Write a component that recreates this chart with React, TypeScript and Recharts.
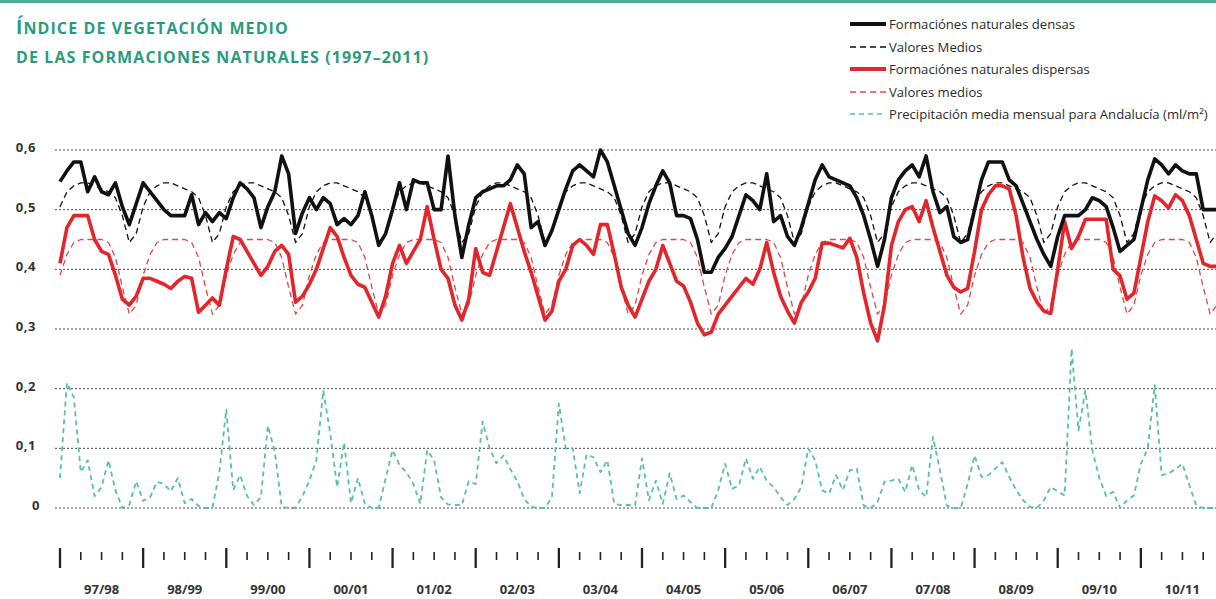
import { LineChart, Line, XAxis, YAxis, CartesianGrid, Legend } from "recharts";

// hydrological years shown on the x axis (12 months each, starting in autumn)
const YEARS = [
  "97/98", "98/99", "99/00", "00/01", "01/02", "02/03", "03/04",
  "04/05", "05/06", "06/07", "07/08", "08/09", "09/10", "10/11",
];

const Y_TICKS = [0, 0.1, 0.2, 0.3, 0.4, 0.5, 0.6];

// formaciones naturales densas, monthly
const DENSE = [
  0.547, 0.565, 0.58, 0.58, 0.53, 0.555, 0.53, 0.525, 0.545, 0.505, 0.475, 0.51,
  0.545, 0.53, 0.515, 0.5, 0.49, 0.49, 0.49, 0.525, 0.475, 0.495, 0.48, 0.495,
  0.485, 0.52, 0.545, 0.535, 0.52, 0.47, 0.505, 0.53, 0.59, 0.56, 0.46, 0.495,
  0.52, 0.5, 0.52, 0.51, 0.475, 0.485, 0.475, 0.49, 0.53, 0.49, 0.44, 0.46,
  0.5, 0.545, 0.5, 0.55, 0.545, 0.545, 0.5, 0.5, 0.59, 0.49, 0.42, 0.475,
  0.52, 0.53, 0.535, 0.54, 0.54, 0.55, 0.575, 0.56, 0.47, 0.48, 0.44, 0.465,
  0.5, 0.535, 0.565, 0.575, 0.565, 0.555, 0.6, 0.58, 0.54, 0.5, 0.46, 0.44,
  0.47, 0.51, 0.54, 0.565, 0.545, 0.49, 0.49, 0.485, 0.45, 0.395, 0.395, 0.42,
  0.435, 0.455, 0.49, 0.525, 0.515, 0.5, 0.56, 0.48, 0.49, 0.455, 0.44, 0.47,
  0.51, 0.55, 0.575, 0.555, 0.55, 0.545, 0.54, 0.52, 0.49, 0.45, 0.405, 0.45,
  0.52, 0.55, 0.565, 0.575, 0.555, 0.59, 0.53, 0.495, 0.505, 0.455, 0.445, 0.45,
  0.5, 0.55, 0.58, 0.58, 0.58, 0.55, 0.54, 0.51, 0.48, 0.45, 0.425, 0.405,
  0.455, 0.49, 0.49, 0.49, 0.5, 0.52, 0.515, 0.505, 0.47, 0.43, 0.44, 0.45,
  0.5, 0.55, 0.585, 0.575, 0.56, 0.575, 0.565, 0.56, 0.56, 0.5, 0.5, 0.5,
];

// formaciones naturales dispersas, monthly
const SPARSE = [
  0.41, 0.47, 0.49, 0.49, 0.49, 0.45, 0.43, 0.425, 0.39, 0.35, 0.34, 0.355,
  0.385, 0.385, 0.38, 0.375, 0.368, 0.38, 0.388, 0.385, 0.328, 0.34, 0.352, 0.34,
  0.4, 0.455, 0.45, 0.43, 0.41, 0.39, 0.405, 0.43, 0.44, 0.425, 0.345, 0.355,
  0.375, 0.4, 0.435, 0.47, 0.455, 0.42, 0.39, 0.375, 0.37, 0.345, 0.32, 0.355,
  0.41, 0.44, 0.41, 0.43, 0.45, 0.505, 0.45, 0.4, 0.385, 0.34, 0.315, 0.35,
  0.435, 0.395, 0.39, 0.43, 0.47, 0.51, 0.47, 0.43, 0.395, 0.355, 0.315, 0.33,
  0.38, 0.4, 0.44, 0.45, 0.44, 0.425, 0.475, 0.475, 0.425, 0.37, 0.34, 0.32,
  0.35, 0.38, 0.4, 0.44, 0.41, 0.38, 0.372, 0.345, 0.31, 0.29, 0.295, 0.325,
  0.34, 0.355, 0.37, 0.385, 0.375, 0.4, 0.445, 0.395, 0.355, 0.33, 0.31, 0.345,
  0.362, 0.385, 0.444, 0.444, 0.44, 0.436, 0.452, 0.42, 0.36, 0.31, 0.28, 0.34,
  0.44, 0.48, 0.5, 0.505, 0.48, 0.515, 0.47, 0.43, 0.39, 0.37, 0.362, 0.368,
  0.43, 0.5, 0.525, 0.54, 0.54, 0.535, 0.49, 0.42, 0.368, 0.345, 0.33, 0.326,
  0.4, 0.48, 0.435, 0.455, 0.484, 0.484, 0.484, 0.484, 0.4, 0.389, 0.35, 0.36,
  0.42, 0.48, 0.523, 0.515, 0.503, 0.525, 0.515, 0.49, 0.45, 0.41, 0.405, 0.405,
];

// precipitación media mensual para Andalucía
const PRECIP = [
  0.05, 0.21, 0.185, 0.06, 0.08, 0.02, 0.035, 0.08, 0.03, 0, 0.005, 0.045,
  0.012, 0.018, 0.044, 0.04, 0.028, 0.05, 0.008, 0.015, 0.003, 0, 0, 0.06,
  0.165, 0.03, 0.055, 0.02, 0.005, 0.018, 0.138, 0.095, 0.002, 0, 0, 0.02,
  0.046, 0.08, 0.197, 0.125, 0.035, 0.11, 0.008, 0.05, 0.007, 0, 0, 0.05,
  0.097, 0.072, 0.06, 0.04, 0.007, 0.097, 0.08, 0.018, 0.006, 0.005, 0.005, 0.045,
  0.04, 0.145, 0.1, 0.075, 0.088, 0.065, 0.045, 0.015, 0.002, 0, 0, 0.018,
  0.175, 0.1, 0.1, 0.025, 0.09, 0.085, 0.06, 0.08, 0.007, 0.005, 0.005, 0.004,
  0.083, 0.013, 0.046, 0.007, 0.058, 0.015, 0.021, 0.01, 0, 0, 0, 0.03,
  0.074, 0.032, 0.038, 0.083, 0.049, 0.069, 0.045, 0.035, 0.018, 0.005, 0.015, 0.035,
  0.1, 0.08, 0.03, 0.024, 0.055, 0.03, 0.063, 0.066, 0.004, 0, 0.01, 0.044,
  0.046, 0.049, 0.027, 0.072, 0.03, 0.018, 0.119, 0.063, 0.004, 0, 0, 0.04,
  0.088, 0.052, 0.055, 0.066, 0.077, 0.052, 0.03, 0.013, 0.002, 0, 0.013, 0.035,
  0.028, 0.021, 0.267, 0.13, 0.197, 0.097, 0.05, 0.02, 0.027, 0, 0.013, 0.021,
  0.074, 0.1, 0.206, 0.055, 0.058, 0.065, 0.074, 0.038, 0.004, 0, 0, 0,
];

// valores medios (same monthly mean repeated every year)
const DENSE_MEAN = [0.505, 0.53, 0.54, 0.545, 0.545, 0.54, 0.535, 0.53, 0.52, 0.49, 0.445, 0.46];
const SPARSE_MEAN = [0.39, 0.425, 0.445, 0.45, 0.45, 0.45, 0.45, 0.445, 0.42, 0.37, 0.325, 0.34];

const data = DENSE.map((v, i) => ({
  m: i,
  dense: v,
  denseMean: DENSE_MEAN[i % 12],
  sparse: SPARSE[i],
  sparseMean: SPARSE_MEAN[i % 12],
  precip: PRECIP[i],
}));

const QUARTER_TICKS = YEARS.flatMap((_, k) => [0, 3, 6, 9].map((q) => k * 12 + q));

const SERIES = [
  { key: "dense", name: "Formaciónes naturales densas", color: "#111111", width: 3.6, dash: undefined },
  { key: "denseMean", name: "Valores Medios", color: "#111111", width: 1.3, dash: "6 4" },
  { key: "sparse", name: "Formaciónes naturales dispersas", color: "#e2262c", width: 3.6, dash: undefined },
  { key: "sparseMean", name: "Valores medios", color: "#e0474b", width: 1.3, dash: "6 4" },
  { key: "precip", name: "Precipitación media mensual para Andalucía (ml/m²)", color: "#5bbfa2", width: 1.8, dash: "5 4" },
];

const DRAW_ORDER = ["precip", "sparseMean", "denseMean", "sparse", "dense"];

const FONT = "'Open Sans', sans-serif";
const TITLE_COLOR = "#2b9b80";

const fmt = (v: number) => (v === 0 ? "0" : v.toFixed(1).replace(".", ","));

const ValueTick = ({ x, y, payload }: any) => (
  <text
    x={payload.value === 0 ? x + 4 : x}
    y={y}
    dy={2}
    textAnchor="end"
    fontFamily={FONT}
    fontSize={13}
    fontWeight={700}
    letterSpacing={0.6}
    fill="#333"
  >
    {fmt(payload.value)}
  </text>
);

const MonthTick = ({ x, y, payload }: any) => {
  const m = payload.value as number;
  const major = m % 12 === 0;
  const label = m % 12 === 6 ? YEARS[Math.floor(m / 12)] : null;
  return (
    <g>
      <line
        x1={x}
        x2={x}
        y1={y + (major ? 40 : 44)}
        y2={y + (major ? 60 : 52)}
        stroke="#222"
        strokeWidth={major ? 2.3 : 1.6}
      />
      {label && (
        <text x={x} y={y + 86} textAnchor="middle" fontFamily={FONT} fontSize={13} fontWeight={700} fill="#333">
          {label}
        </text>
      )}
    </g>
  );
};

const LegendBox = () => (
  <div style={{ fontFamily: FONT, fontSize: 13.1, color: "#2a2a2a" }}>
    {SERIES.map((s) => (
      <div key={s.key} style={{ display: "flex", alignItems: "center", height: 22.5, whiteSpace: "nowrap" }}>
        <svg width={40} height={10} style={{ marginRight: 1 }}>
          <line x1={2} x2={38} y1={5} y2={5} stroke={s.color} strokeWidth={s.dash ? 1.5 : 4} strokeDasharray={s.dash} />
        </svg>
        <span>{s.name}</span>
      </div>
    ))}
  </div>
);

const titleLine = { whiteSpace: "nowrap" as const, height: 30 };

export default function App() {
  return (
    <div style={{ position: "relative", width: 1216, height: 599, overflow: "hidden", background: "#fff" }}>
      <style>{"body{margin:0}"}</style>
      <div style={{ position: "absolute", left: 0, top: 0, width: 1216, height: 2.5, background: "#4aae96" }} />
      <div
        style={{
          position: "absolute",
          left: 16,
          top: 12,
          color: TITLE_COLOR,
          fontFamily: FONT,
          fontWeight: 700,
          fontSize: 16,
          letterSpacing: 1.1,
          lineHeight: "30px",
          zIndex: 2,
        }}
      >
        <div style={titleLine}>
          <span style={{ fontSize: 19 }}>Í</span>NDICE DE VEGETACIÓN MEDIO
        </div>
        <div style={titleLine}>DE LAS FORMACIONES NATURALES (1997–2011)</div>
      </div>
      <LineChart
        width={1224}
        height={599}
        data={data}
        margin={{ top: 150, right: 0, bottom: 0, left: 0 }}
      >
        <CartesianGrid vertical={false} stroke="#333" strokeDasharray="2 2" strokeWidth={0.9} />
        <XAxis
          dataKey="m"
          type="number"
          domain={[0, 168]}
          ticks={QUARTER_TICKS}
          interval={0}
          padding={{ left: 5, right: 0 }}
          axisLine={false}
          tickLine={false}
          tickSize={0}
          tickMargin={0}
          height={91}
          tick={<MonthTick />}
        />
        <YAxis
          type="number"
          domain={[0, 0.6]}
          ticks={Y_TICKS}
          interval={0}
          width={55}
          axisLine={false}
          tickLine={false}
          tickSize={0}
          tickMargin={19}
          tick={<ValueTick />}
        />
        <Legend
          verticalAlign="middle"
          align="center"
          layout="horizontal"
          wrapperStyle={{ left: 848, top: 13, width: 368 }}
          content={() => <LegendBox />}
        />
        {DRAW_ORDER.map((k) => {
          const s = SERIES.find((x) => x.key === k)!;
          return (
            <Line
              key={s.key}
              dataKey={s.key}
              name={s.name}
              type="linear"
              stroke={s.color}
              strokeWidth={s.width}
              strokeDasharray={s.dash}
              strokeLinejoin="round"
              dot={false}
              activeDot={false}
              isAnimationActive={false}
            />
          );
        })}
      </LineChart>
    </div>
  );
}
